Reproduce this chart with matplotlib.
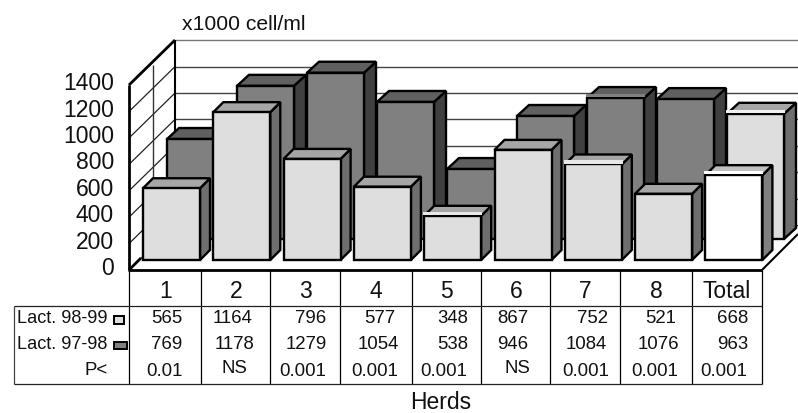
import matplotlib
matplotlib.use('Agg')
import matplotlib.pyplot as plt
from matplotlib.patches import Polygon

plt.rcParams['font.family'] = ['Liberation Sans', 'DejaVu Sans']

# data
herds = ['1', '2', '3', '4', '5', '6', '7', '8', 'Total']
lact_9899 = [565, 1164, 796, 577, 348, 867, 752, 521, 668]
lact_9798 = [769, 1178, 1279, 1054, 538, 946, 1084, 1076, 963]
p_values = ['0.01', 'NS', '0.001', '0.001', '0.001', 'NS', '0.001', '0.001', '0.001']
y_ticks = [0, 200, 400, 600, 800, 1000, 1200, 1400]

# everything is drawn in picture pixels
fig = plt.figure(figsize=(7.98, 4.14), dpi=100)
ax = fig.add_axes([0, 0, 1, 1])
ax.set_xlim(0, 798)
ax.set_ylim(414, 0)
ax.axis('off')

# axis scale, pixels per 1000 cell/ml unit
floor_y = 271
wall_scale = 0.132
dx, dy = 46, 45
text_color = '#111111'


def line(xs, ys, lw=1.0, color='black', z=1):
    ax.plot(xs, ys, color=color, lw=lw, solid_capstyle='butt', zorder=z, clip_on=True)


def bar3d(x, base, w, h, depth_x, depth_y, face, side, top, z, strip=None):
    t = base - h
    ax.add_patch(Polygon([(x + w, base), (x + w + depth_x, base - depth_y),
                          (x + w + depth_x, t - depth_y), (x + w, t)],
                         fc=side, ec='black', lw=1.7, joinstyle='miter', zorder=z))
    ax.add_patch(Polygon([(x, t), (x + depth_x, t - depth_y),
                          (x + w + depth_x, t - depth_y), (x + w, t)],
                         fc=top, ec='black', lw=1.7, joinstyle='miter', zorder=z))
    ax.add_patch(Polygon([(x, base), (x, t), (x + w, t), (x + w, base)],
                         fc=face, ec='black', lw=1.7, joinstyle='miter', zorder=z))
    # some bars have a pale rim along the top of the face
    if strip:
        ax.add_patch(plt.Rectangle((x - 1, t - 4), w + 2, 3.2, fc=strip, ec='none', zorder=z))


# back wall and side wall grid
for v in y_ticks:
    y = floor_y - v * wall_scale
    line([129, 129 + dx], [y, y - dy], lw=0.9, color='#222222')
    line([129 + dx, 798], [y - dy, y - dy], lw=1.0, color='#444444' if v < 1400 else '#777777')
line([153, 153], [66, 250], lw=1.0, color='#333333')
line([175, 175], [41, 226], lw=1.5)

# back row
for i, v in enumerate(lact_9798):
    x = 167 + 70.0 * i
    if i == 8:
        bar3d(x, 240, 57, v * 0.13, 12, 11, '#dedede', '#6e6e6e', '#a6a6a6', 3 + i * 0.01, strip='#f0f0f0')
    elif i == 6:
        bar3d(x, 240, 57, v * 0.13, 12, 11, '#808080', '#404040', '#606060', 3 + i * 0.01, strip='#808080')
    else:
        bar3d(x, 240, 57, v * 0.13, 12, 11, '#808080', '#404040', '#606060', 3 + i * 0.01)

# front row
for i, v in enumerate(lact_9899):
    x = 143 + 70.3 * i
    if i == 8:
        bar3d(x, 261, 57, v * 0.127, 10, 10, 'white', '#808080', '#c0c0c0', 5 + i * 0.01, strip='white')
    elif i == 6 or i == 4:
        bar3d(x, 261, 57, v * 0.127, 10, 10, '#dedede', '#6e6e6e', '#a6a6a6', 5 + i * 0.01, strip='#e8e8e8')
    else:
        bar3d(x, 261, 57, v * 0.127, 10, 10, '#dedede', '#6e6e6e', '#a6a6a6', 5 + i * 0.01)

# heavy frame of the 3d box
line([129, 129], [86, floor_y], lw=2.0, z=6)
line([129, 175], [86, 41], lw=2.0, z=6)
line([129, 141], [floor_y, floor_y - 12], lw=2.0, z=6)
line([128, 762], [floor_y, floor_y], lw=2.0, z=6)
line([762, 798], [floor_y, 235], lw=1.5, z=6)

# y tick labels
for v in y_ticks:
    ax.text(114, 275 - v * 0.132, str(v), ha='right', va='baseline', fontsize=16.5, color=text_color)

ax.text(244, 30, 'x1000 cell/ml', ha='center', va='baseline', fontsize=15.2, color=text_color)

# table under the chart
cell_edges = [129, 200.5, 270, 339.5, 411.5, 481, 550, 619.5, 691.5, 761.5]
for x in cell_edges:
    line([x, x], [271, 385], lw=0.9, z=6)
line([14, 14], [307, 385], lw=0.9, color='#444444', z=6)
line([14, 761.5], [307, 307], lw=0.9, color='#222222', z=6)
line([14, 761.5], [385, 385], lw=0.9, color='#222222', z=6)

for i, h in enumerate(herds):
    ax.text((cell_edges[i] + cell_edges[i + 1]) / 2 + 0.5, 298, h, ha='center', va='baseline',
            fontsize=16.5, color=text_color)

row1_x = [167, 233, 311, 380, 453, 513, 592, 661, 733]
row2_x = [167, 234, 306, 378, 453, 513, 586, 658, 733]
row3_x = [164, 234, 303, 375, 444, 517, 586, 655, 724]
for i in range(9):
    ax.text(row1_x[i], 323, str(lact_9899[i]), ha='center', va='baseline', fontsize=13.4, color=text_color)
    ax.text(row2_x[i], 349, str(lact_9798[i]), ha='center', va='baseline', fontsize=13.4, color=text_color)
    p_y = 373 if p_values[i] == 'NS' else 376
    ax.text(row3_x[i], p_y, p_values[i], ha='center', va='baseline', fontsize=13.4, color=text_color)

ax.text(17, 323, 'Lact. 98-99', ha='left', va='baseline', fontsize=13.1, color=text_color)
ax.text(17, 349, 'Lact. 97-98', ha='left', va='baseline', fontsize=13.1, color=text_color)
ax.text(108, 375, 'P<', ha='right', va='baseline', fontsize=13.4, color=text_color)

# legend keys
ax.add_patch(plt.Rectangle((114, 317), 10, 8, fc='#dedede', ec='black', lw=1.4, zorder=7))
ax.add_patch(plt.Rectangle((114, 343), 13, 7, fc='#808080', ec='black', lw=1.4, zorder=7))

ax.text(441, 409, 'Herds', ha='center', va='baseline', fontsize=16.5, color=text_color)

fig.savefig('out.png', dpi=100)
